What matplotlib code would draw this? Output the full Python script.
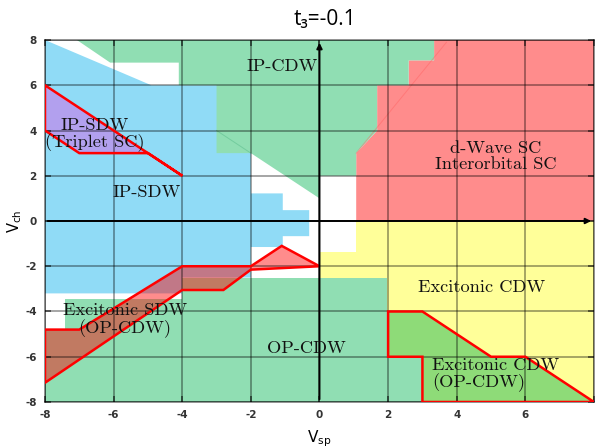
import matplotlib
matplotlib.use("Agg")
import matplotlib.pyplot as plt
from matplotlib.patches import Polygon

plt.rcParams['axes.unicode_minus'] = False

# ---- data: phase regions (Vsp, Vch) ----
ip_sdw_x = [-8, -4.9, -2, -2, -1.07, -1.07, -0.3, -0.3, -1.07, -1.07, -2, -2, -4, -4, -8]
ip_sdw_y = [8, 6, 6, 1.22, 1.22, 0.48, 0.48, -0.67, -0.67, -1.15, -1.15, -2.5, -2.5, -3.2, -3.2]

ip_cdw_x = [-7.07, -6.1, -4.1, -4.1, -3, -3, -2, 0, 0, 1.07, 1.07, 1.68, 1.68, 2.6, 2.6, 3.34, 3.34]
ip_cdw_y = [8, 7, 7, 6, 6, 3, 3, 1, 2, 2, 3, 4, 6, 6, 7.1, 7.1, 8]

dwave_x = [1.07, 1.07, 1.68, 1.68, 2.6, 2.6, 3.34, 3.34, 8, 8]
dwave_y = [0, 3, 4, 6, 6, 7.1, 7.1, 8, 8, 0]

exc_cdw_x = [0, 1.07, 1.07, 8, 8, 0]
exc_cdw_y = [-1.37, -1.37, 0, 0, -8, -8]

op_cdw_x = [-8, -8, -7.42, -7.42, -4, -4, 1.97, 1.97, 3, 3]
op_cdw_y = [-8, -4.83, -4.83, -3.46, -3.46, -2.5, -2.5, -6, -6, -8]

triplet_x = [-8, -4, -5, -7, -8]
triplet_y = [6, 2, 3, 3, 4]

exc_sdw_x = [-8, -7, -4, -2, -1.1, 0, -2, -2.8, -4, -8]
exc_sdw_y = [-4.8, -4.8, -2, -2, -1.1, -2, -2.15, -3.05, -3.05, -7.15]

exc_op_x = [2, 3, 5, 6, 8, 3, 3, 2]
exc_op_y = [-4, -4, -6, -6, -8, -8, -6, -6]

ticks = [-8, -6, -4, -2, 0, 2, 4, 6, 8]
xtick_labels = ['-8', '-6', '-4', '-2', '0', '2', '4', '6', '']
ytick_labels = ['-8', '-6', '-4', '-2', '0', '2', '4', '6', '8']

labels = [
    ("IP-CDW", -1.08, 6.85, 'center'),
    ("IP-SDW\n(Triplet SC)", -6.55, 3.8, 'center'),
    ("IP-SDW", -5.03, 1.27, 'center'),
    ("d-Wave SC\nInterorbital SC", 5.14, 2.87, 'center'),
    ("Excitonic CDW", 4.73, -2.93, 'center'),
    ("Excitonic SDW\n(OP-CDW)", -5.67, -4.4, 'center'),
    ("OP-CDW", -0.38, -5.63, 'center'),
    ("Excitonic CDW\n(OP-CDW)", 3.28, -6.8, 'left'),
]

# ---- figure ----
fig = plt.figure(figsize=(5.95, 4.48), dpi=100)
ax = fig.add_axes([0.0756, 0.1027, 0.9227, 0.808])
ax.set_xlim(-8, 8)
ax.set_ylim(-8, 8)

def poly(xs, ys, fc, ec='none', lw=0, alpha=1.0, z=1):
    p = Polygon(list(zip(xs, ys)), closed=True, facecolor=fc, edgecolor=ec,
                linewidth=lw, alpha=alpha, zorder=z)
    ax.add_patch(p)

poly(ip_sdw_x, ip_sdw_y, '#90dbf6')
poly(exc_cdw_x, exc_cdw_y, '#ffff99')
poly(dwave_x, dwave_y, '#ff8c8c')
poly(ip_cdw_x, ip_cdw_y, '#90deb3')
poly(op_cdw_x, op_cdw_y, '#90deb3')
ax.plot([1.07, 3.7], [3, 7.9], color='#ff6060', lw=0.7, alpha=0.45, zorder=1.5)
ax.plot([-3, -2], [4, 3], color='#60c090', lw=0.7, alpha=0.6, zorder=1.5)

# overlays with red outlines
poly(triplet_x, triplet_y, '#b2a0ee', z=1.6)
poly(exc_sdw_x, exc_sdw_y, '#ff0000', alpha=0.45, z=1.6)
poly(exc_op_x, exc_op_y, '#8edb78', z=1.6)
for xs, ys in [(triplet_x, triplet_y), (exc_sdw_x, exc_sdw_y), (exc_op_x, exc_op_y)]:
    ax.add_patch(Polygon(list(zip(xs, ys)), closed=True, facecolor='none',
                         edgecolor='#ff0000', linewidth=1.8, zorder=3))

# grid
ax.set_axisbelow(False)
ax.set_xticks(ticks)
ax.set_yticks(ticks)
ax.set_xticklabels(xtick_labels)
ax.set_yticklabels(ytick_labels)
ax.grid(True, color='black', alpha=0.45, lw=1.1)
for s in ax.spines.values():
    s.set_color((0, 0, 0, 0.5))
    s.set_linewidth(1.2)
ax.tick_params(direction='in', length=4, width=1.2, top=True, right=True,
               color=(0, 0, 0, 0.6), labelsize=7.5, labelcolor='#333333', pad=6)
for lab in ax.get_xticklabels() + ax.get_yticklabels():
    lab.set_fontweight('bold')

# main axes lines with arrows
ax.annotate('', xy=(0, 8), xytext=(0, -8),
            arrowprops=dict(arrowstyle='-|>', color='black', lw=1.4, mutation_scale=8),
            zorder=4, annotation_clip=False)
ax.annotate('', xy=(8, 0), xytext=(-8, 0),
            arrowprops=dict(arrowstyle='-|>', color='black', lw=1.4, mutation_scale=8),
            zorder=4, annotation_clip=False)

for txt, x, y, ha in labels:
    ax.text(x, y, txt, fontfamily='cmr10', fontsize=13.2, ha=ha, va='center',
            multialignment=ha, linespacing=1.05, zorder=5, color='#111111')

ax.set_xlabel(r'V$_{\mathrm{sp}}$', fontsize=11, labelpad=6)
ax.set_ylabel(r'V$_{\mathrm{ch}}$', fontsize=10.5, labelpad=1)
fig.text(325 / 595, 1 - 20 / 448, 't\u2083=-0.1', fontsize=15, ha='center', va='center',
         family=['Open Sans', 'DejaVu Sans'])

fig.savefig('out.png', dpi=100)
